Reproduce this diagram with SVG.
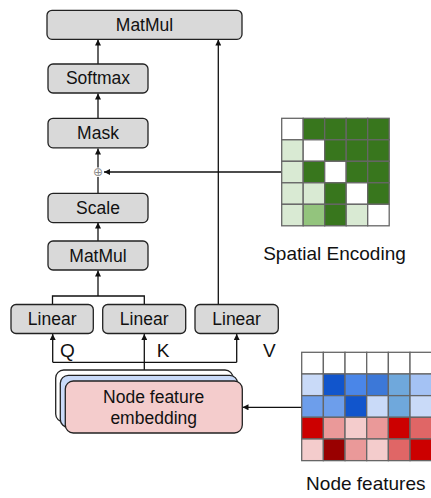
<svg xmlns="http://www.w3.org/2000/svg" width="431" height="498" viewBox="0 0 431 498">
<style>
.box{fill:#d9d9d9;stroke:#222;stroke-width:1.3}
.lbl{font-family:"Liberation Sans",Arial,sans-serif;font-size:17.5px;fill:#111;text-anchor:middle}
.big{font-family:"Liberation Sans",Arial,sans-serif;font-size:19px;fill:#111}
.ln{fill:none;stroke:#111;stroke-width:1.3}
.cell{stroke:#666;stroke-width:1.3}
.emb{stroke:#222;stroke-width:1.3}
</style>
<defs>
<marker id="ah" viewBox="0 0 10 10" refX="10" refY="5" markerWidth="8" markerHeight="6" markerUnits="userSpaceOnUse" orient="auto">
<path d="M0,0 L10,5 L0,10 z" fill="#111"/>
</marker>
</defs>

<g id="connectors">
<path class="ln" d="M98,64 L98,39.5" marker-end="url(#ah)"/>
<path class="ln" d="M98,118 L98,93.5" marker-end="url(#ah)"/>
<path class="ln" d="M98,167.5 L98,148.5" marker-end="url(#ah)"/>
<path class="ln" d="M98,193 L98,177"/>
<path class="ln" d="M98,241 L98,222.5" marker-end="url(#ah)"/>
<path class="ln" d="M52.5,304.5 L52.5,296 L144.3,296 L144.3,304.5"/>
<path class="ln" d="M98,296 L98,270.5" marker-end="url(#ah)"/>
<path class="ln" d="M218.3,304.5 L218.3,39.5" marker-end="url(#ah)"/>
<path class="ln" d="M281.7,172 L104,172" marker-end="url(#ah)"/>
<path class="ln" d="M52.7,362.3 L236.7,362.3"/>
<path class="ln" d="M52.7,362.3 L52.7,334" marker-end="url(#ah)"/>
<path class="ln" d="M144.3,370 L144.3,334" marker-end="url(#ah)"/>
<path class="ln" d="M236.7,362.3 L236.7,334" marker-end="url(#ah)"/>
<path class="ln" d="M301.7,407.3 L242.5,407.3" marker-end="url(#ah)"/>
</g>

<g id="matmul-top"><rect class="box" x="47" y="10.3" width="195" height="29" rx="5"/><text class="lbl" x="144.5" y="31">MatMul</text></g>
<g id="softmax"><rect class="box" x="48" y="64" width="100" height="29" rx="5"/><text class="lbl" x="98" y="84.3">Softmax</text></g>
<g id="mask"><rect class="box" x="48" y="118.3" width="100" height="29.5" rx="5"/><text class="lbl" x="98" y="139">Mask</text></g>
<g id="add"><text x="98" y="176.3" font-family="DejaVu Sans,sans-serif" font-size="12" fill="#888" text-anchor="middle">⊕</text></g>
<g id="scale"><rect class="box" x="48" y="193.3" width="100" height="29.3" rx="5"/><text class="lbl" x="98" y="214">Scale</text></g>
<g id="matmul-bottom"><rect class="box" x="48" y="241" width="100" height="29" rx="5"/><text class="lbl" x="98" y="261.7">MatMul</text></g>
<g id="linear-q"><rect class="box" x="11" y="304.5" width="82.3" height="29" rx="5"/><text class="lbl" x="52.2" y="325.3">Linear</text></g>
<g id="linear-k"><rect class="box" x="102.7" y="304.5" width="83" height="29" rx="5"/><text class="lbl" x="144.2" y="325.3">Linear</text></g>
<g id="linear-v"><rect class="box" x="195" y="304.5" width="83.3" height="29" rx="5"/><text class="lbl" x="236.6" y="325.3">Linear</text></g>

<g id="qkv-labels">
<text class="big" x="60" y="356.5">Q</text>
<text class="big" x="156.7" y="356.5">K</text>
<text class="big" x="263" y="356.5">V</text>
</g>

<g id="embedding">
<rect class="emb" x="55.7" y="370" width="177.3" height="52" rx="8" fill="#ffffff"/>
<rect class="emb" x="60.3" y="375.3" width="177.3" height="52" rx="8" fill="#c9daf8"/>
<rect class="emb" x="65.3" y="381" width="177" height="52" rx="8" fill="#f4cccc"/>
<text class="lbl" x="153.7" y="403.3">Node feature</text>
<text class="lbl" x="153.7" y="424">embedding</text>
</g>

<g id="spatial-encoding">
<g class="cell">
<rect x="281.7" y="118.3" width="21.5" height="21.5" fill="#ffffff"/>
<rect x="303.2" y="118.3" width="21.5" height="21.5" fill="#38761d"/>
<rect x="324.7" y="118.3" width="21.5" height="21.5" fill="#38761d"/>
<rect x="346.2" y="118.3" width="21.5" height="21.5" fill="#38761d"/>
<rect x="367.7" y="118.3" width="21.5" height="21.5" fill="#38761d"/>
<rect x="281.7" y="139.8" width="21.5" height="21.5" fill="#d9ead3"/>
<rect x="303.2" y="139.8" width="21.5" height="21.5" fill="#ffffff"/>
<rect x="324.7" y="139.8" width="21.5" height="21.5" fill="#38761d"/>
<rect x="346.2" y="139.8" width="21.5" height="21.5" fill="#38761d"/>
<rect x="367.7" y="139.8" width="21.5" height="21.5" fill="#38761d"/>
<rect x="281.7" y="161.3" width="21.5" height="21.5" fill="#d9ead3"/>
<rect x="303.2" y="161.3" width="21.5" height="21.5" fill="#38761d"/>
<rect x="324.7" y="161.3" width="21.5" height="21.5" fill="#ffffff"/>
<rect x="346.2" y="161.3" width="21.5" height="21.5" fill="#38761d"/>
<rect x="367.7" y="161.3" width="21.5" height="21.5" fill="#38761d"/>
<rect x="281.7" y="182.8" width="21.5" height="21.5" fill="#d9ead3"/>
<rect x="303.2" y="182.8" width="21.5" height="21.5" fill="#d9ead3"/>
<rect x="324.7" y="182.8" width="21.5" height="21.5" fill="#38761d"/>
<rect x="346.2" y="182.8" width="21.5" height="21.5" fill="#ffffff"/>
<rect x="367.7" y="182.8" width="21.5" height="21.5" fill="#38761d"/>
<rect x="281.7" y="204.3" width="21.5" height="21.5" fill="#d9ead3"/>
<rect x="303.2" y="204.3" width="21.5" height="21.5" fill="#93c47d"/>
<rect x="324.7" y="204.3" width="21.5" height="21.5" fill="#38761d"/>
<rect x="346.2" y="204.3" width="21.5" height="21.5" fill="#d9ead3"/>
<rect x="367.7" y="204.3" width="21.5" height="21.5" fill="#ffffff"/>
</g>
<text class="big" x="334.5" y="260" text-anchor="middle">Spatial Encoding</text>
</g>

<g id="node-features">
<g class="cell">
<rect x="301.7" y="352.3" width="21.67" height="21.67" fill="#ffffff"/>
<rect x="323.37" y="352.3" width="21.67" height="21.67" fill="#ffffff"/>
<rect x="345.03" y="352.3" width="21.67" height="21.67" fill="#ffffff"/>
<rect x="366.7" y="352.3" width="21.67" height="21.67" fill="#ffffff"/>
<rect x="388.37" y="352.3" width="21.67" height="21.67" fill="#ffffff"/>
<rect x="410.03" y="352.3" width="21.67" height="21.67" fill="#ffffff"/>
<rect x="301.7" y="373.97" width="21.67" height="21.67" fill="#c9daf8"/>
<rect x="323.37" y="373.97" width="21.67" height="21.67" fill="#1155cc"/>
<rect x="345.03" y="373.97" width="21.67" height="21.67" fill="#4a86e8"/>
<rect x="366.7" y="373.97" width="21.67" height="21.67" fill="#3c78d8"/>
<rect x="388.37" y="373.97" width="21.67" height="21.67" fill="#6fa8dc"/>
<rect x="410.03" y="373.97" width="21.67" height="21.67" fill="#a4c2f4"/>
<rect x="301.7" y="395.63" width="21.67" height="21.67" fill="#6d9eeb"/>
<rect x="323.37" y="395.63" width="21.67" height="21.67" fill="#6d9eeb"/>
<rect x="345.03" y="395.63" width="21.67" height="21.67" fill="#1155cc"/>
<rect x="366.7" y="395.63" width="21.67" height="21.67" fill="#c9daf8"/>
<rect x="388.37" y="395.63" width="21.67" height="21.67" fill="#6fa8dc"/>
<rect x="410.03" y="395.63" width="21.67" height="21.67" fill="#c9daf8"/>
<rect x="301.7" y="417.3" width="21.67" height="21.67" fill="#cc0000"/>
<rect x="323.37" y="417.3" width="21.67" height="21.67" fill="#ea9999"/>
<rect x="345.03" y="417.3" width="21.67" height="21.67" fill="#f4cccc"/>
<rect x="366.7" y="417.3" width="21.67" height="21.67" fill="#ea9999"/>
<rect x="388.37" y="417.3" width="21.67" height="21.67" fill="#cc0000"/>
<rect x="410.03" y="417.3" width="21.67" height="21.67" fill="#e06666"/>
<rect x="301.7" y="438.97" width="21.67" height="21.67" fill="#f4cccc"/>
<rect x="323.37" y="438.97" width="21.67" height="21.67" fill="#990000"/>
<rect x="345.03" y="438.97" width="21.67" height="21.67" fill="#ea9999"/>
<rect x="366.7" y="438.97" width="21.67" height="21.67" fill="#f4cccc"/>
<rect x="388.37" y="438.97" width="21.67" height="21.67" fill="#e06666"/>
<rect x="410.03" y="438.97" width="21.67" height="21.67" fill="#cc0000"/>
</g>
<text class="big" x="365.8" y="490" text-anchor="middle">Node features</text>
</g>
</svg>
